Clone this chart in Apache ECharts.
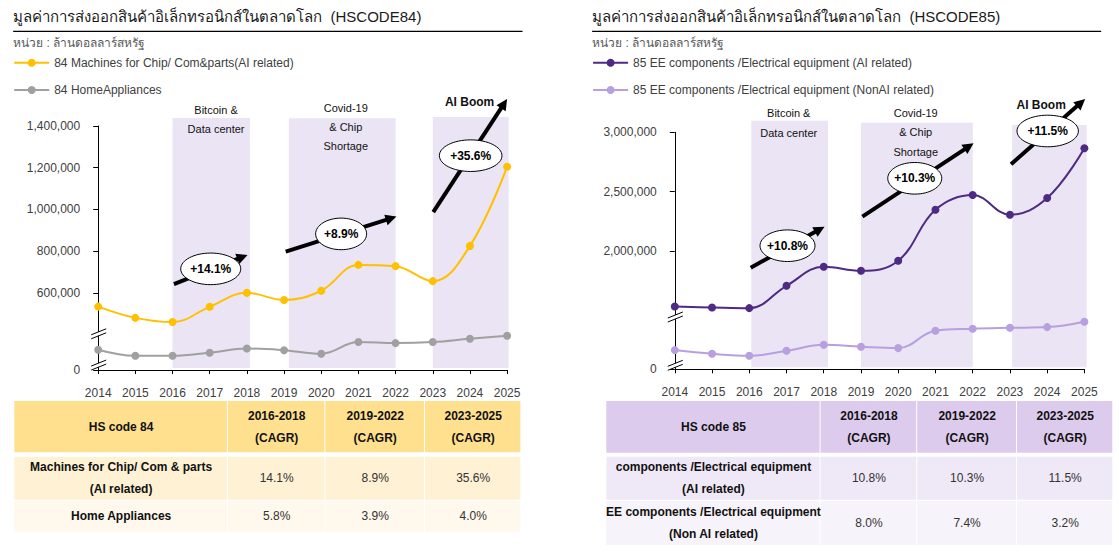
<!DOCTYPE html>
<html>
<head>
<meta charset="utf-8">
<script src="https://cdn.jsdelivr.net/npm/echarts@6/dist/echarts.min.js"></script>
<style>html,body{margin:0;padding:0;background:#fff}#c{width:1119px;height:558px}</style>
</head>
<body>
<div id="c"></div>
<script>
// ---------------- DATA ----------------
const years = ['2014','2015','2016','2017','2018','2019','2020','2021','2022','2023','2024','2025'];
const machines84 = [534000, 480000, 460000, 533000, 600000, 566000, 610000, 734000, 728000, 656000, 825000, 1205000];
const home84     = [327000, 298000, 298000, 313000, 333000, 325000, 308000, 364000, 359000, 364000, 380000, 394000];
const eeAI85     = [1530000, 1522000, 1516000, 1705000, 1865000, 1831000, 1916000, 2346000, 2471000, 2304000, 2445000, 2865000];
const eeNonAI85  = [1162000, 1131000, 1114000, 1156000, 1207000, 1190000, 1179000, 1325000, 1342000, 1350000, 1356000, 1401000];
const yTicks84 = [0, 600000, 800000, 1000000, 1200000, 1400000];
const yTicks85 = [0, 2000000, 2500000, 3000000];
const names84 = ['84 Machines for Chip/ Com&parts(AI related)', '84 HomeAppliances'];
const names85 = ['85 EE components /Electrical equipment (AI related)', '85 EE components /Electrical equipment (NonAI related)'];
const titles = ['มูลค่าการส่งออกสินค้าอิเล็กทรอนิกส์ในตลาดโลก  (HSCODE84)', 'มูลค่าการส่งออกสินค้าอิเล็กทรอนิกส์ในตลาดโลก  (HSCODE85)'];
const unitText = 'หน่วย : ล้านดอลลาร์สหรัฐ';
const bandNames = ['Bitcoin &\nData center', 'Covid-19\n& Chip\nShortage', 'AI Boom'];
const growth84 = ['+14.1%', '+8.9%', '+35.6%'];
const growth85 = ['+10.8%', '+10.3%', '+11.5%'];
const periods = ['2016-2018', '2019-2022', '2023-2025'];
const tableHead84 = 'HS code 84';
const rowLabels84 = ['Machines for Chip/ Com & parts\n(AI related)', 'Home Appliances'];
const cagrMachines84 = ['14.1%', '8.9%', '35.6%'];
const cagrHome84 = ['5.8%', '3.9%', '4.0%'];
const tableHead85 = 'HS code 85';
const rowLabels85 = ['components /Electrical equipment\n(AI related)', 'EE components /Electrical equipment\n(Non AI related)'];
const cagrAI85 = ['10.8%', '10.3%', '11.5%'];
const cagrNonAI85 = ['8.0%', '7.4%', '3.2%'];

// ---------------- LAYOUT / STYLE ----------------
const FONT = '"Liberation Sans", Arial, "Noto Sans", "DejaVu Sans", sans-serif';
const TXT = '#404040';
const BAND = '#EAE4F4';
const panels = [
  {
    grid: {left: 98.2, top: 126, width: 408.9, height: 244},
    floor: 230000, max: 1400000, ticks: yTicks84,
    names: names84, data: [machines84, home84], colors: ['#FFC000', '#A0A0A0'],
    title: titles[0], titleX: 13.2, ruleEnd: 522.5, legendX: 13.2,
    bands: [{x0: 2, x1: 4.08, top: 118}, {x0: 5.13, x1: 8, top: 118.3}, {x0: 9, x1: 11.04, top: 117}],
    bandText: [{x: 3.17, y: 110}, {x: 6.66, y: 107.7}, {x: 9.99, y: 101.7}],
    growth: growth84,
    arrows: [
      {from: [2.037, 641700], to: [4.017, 782000], ell: [3.027, 715000], rx: 30},
      {from: [5.044, 797800], to: [8.023, 965500], ell: [6.535, 882600], rx: 25.5},
      {from: [9.013, 986600], to: [11.0, 1529300], ell: [10.02, 1257700], rx: 31.3}
    ],
    breaks: [413200, 263200],
    table: {
      cols: [14.3, 227.9, 325.4, 425, 521.4],
      rows: [[401, 452.3], [456.7, 499.7], [501, 531.7]],
      fills: ['#FFE08F', '#FFF1D4', '#FFF8EC'],
      head: tableHead84, labels: rowLabels84, values: [cagrMachines84, cagrHome84]
    }
  },
  {
    grid: {left: 674.8, top: 132.3, width: 409.6, height: 237},
    floor: 1000000, max: 3000000, ticks: yTicks85,
    names: names85, data: [eeAI85, eeNonAI85], colors: ['#4E2A84', '#B89FDF'],
    title: titles[1], titleX: 592.1, ruleEnd: 1101.2, legendX: 592.1,
    bands: [{x0: 2.056, x1: 4.116, top: 120.7}, {x0: 5, x1: 8, top: 122.7}, {x0: 9.06, x1: 11.06, top: 125}],
    bandText: [{x: 3.06, y: 113.3}, {x: 6.47, y: 113}, {x: 9.84, y: 104.7}],
    growth: growth85,
    arrows: [
      {from: [2.039, 1857400], to: [4.021, 2203400], ell: [3.027, 2043000], rx: 27.5},
      {from: [5.037, 2287800], to: [8.024, 2907200], ell: [6.444, 2611800], rx: 27},
      {from: [9.029, 2730000], to: [11.02, 3281000], ell: [10.014, 3011000], rx: 30.7}
    ],
    breaks: [1458200, 1050600],
    table: {
      cols: [606.3, 820.6, 917.2, 1017, 1113.3],
      rows: [[401, 452.7], [456.7, 499.7], [501, 545]],
      fills: ['#DCCBEC', '#EFE8F6', '#F7F3FA'],
      head: tableHead85, labels: rowLabels85, values: [cagrAI85, cagrNonAI85]
    }
  }
];

const fmt = v => v.toLocaleString('en-US');

const chart = echarts.init(document.getElementById('c'), null, {renderer: 'svg', width: 1119, height: 558});

const option = {
  animation: false,
  backgroundColor: '#fff',
  textStyle: {fontFamily: FONT},
  title: panels.map(p => ({
    text: p.title, left: p.titleX, top: 9, padding: 0,
    textStyle: {fontSize: 15, fontWeight: 'normal', color: '#1a1a1a', fontFamily: FONT}
  })),
  legend: panels.map(p => ({
    data: p.names, orient: 'vertical', left: p.legendX, top: 55.7, padding: 0,
    itemWidth: 35, itemHeight: 10, itemGap: 13.3,
    textStyle: {fontSize: 12, color: TXT, fontFamily: FONT, lineHeight: 14}
  })),
  grid: panels.map(p => Object.assign({containLabel: false}, p.grid)),
  xAxis: [
    ...panels.map((p, i) => ({
      type: 'category', gridIndex: i, data: years, boundaryGap: false,
      axisLine: {lineStyle: {color: '#000', width: 1}},
      axisTick: {show: true, length: 4, lineStyle: {color: '#000'}},
      axisLabel: {color: TXT, fontSize: 12, margin: 17, fontFamily: FONT, interval: 0},
      splitLine: {show: false}
    })),
    ...panels.map((p, i) => ({type: 'value', gridIndex: i, min: 0, max: 11, show: false}))
  ],
  yAxis: panels.map((p, i) => {
    const vals = p.ticks.map(v => v === 0 ? p.floor : v);
    return {
      type: 'value', gridIndex: i, min: p.floor, max: p.max,
      axisLine: {show: true, lineStyle: {color: '#000', width: 1}},
      axisTick: {show: true, length: 5, lineStyle: {color: '#000'}, customValues: vals},
      axisLabel: {color: TXT, fontSize: 12, margin: 18, fontFamily: FONT, customValues: vals,
        formatter: v => (v === p.floor ? '0' : fmt(v))},
      splitLine: {show: false}
    };
  }),
  series: []
};
panels.forEach((p, i) => {
  p.data.forEach((d, k) => {
    option.series.push({
      type: 'line', name: p.names[k], xAxisIndex: i, yAxisIndex: i, data: d,
      smooth: 0.4, symbol: 'circle', symbolSize: 8, z: 3,
      lineStyle: {color: p.colors[k], width: 2},
      itemStyle: {color: p.colors[k]}
    });
  });
});
chart.setOption(option);

// ---------------- ANNOTATIONS & TABLES ----------------
const els = [];
panels.forEach((p, pi) => {
  const toPx = (x, y) => chart.convertToPixel({xAxisIndex: 2 + pi, yAxisIndex: pi}, [x, y]);
  const axisY = toPx(0, p.floor)[1];
  const axisX = toPx(0, p.floor)[0];
  // title rule + unit
  els.push({type: 'line', shape: {x1: p.titleX, y1: 31.3, x2: p.ruleEnd, y2: 31.3}, style: {stroke: '#000', lineWidth: 1.3}, z: 5});
  els.push({type: 'text', x: p.titleX, y: 42.5, style: {text: unitText, fill: '#595959', fontSize: 12, fontFamily: FONT, textVerticalAlign: 'middle'}, z: 5});
  // bands
  p.bands.forEach((b, i) => {
    const x0 = toPx(b.x0, p.floor)[0], x1 = toPx(b.x1, p.floor)[0];
    els.push({type: 'rect', silent: true, shape: {x: x0, y: b.top, width: x1 - x0, height: axisY - 2 - b.top}, style: {fill: BAND}, z: 1});
    const t = p.bandText[i];
    const bold = i === 2;
    els.push({type: 'text', x: toPx(t.x, p.floor)[0], y: t.y - 9.6, z: 6,
      style: {text: bandNames[i], fill: '#111', fontSize: bold ? 12 : 11, fontWeight: bold ? 'bold' : 'normal',
        fontFamily: FONT, lineHeight: 19.3, textAlign: 'center', textVerticalAlign: 'top'}});
  });
  // arrows + ellipses
  p.arrows.forEach((a, i) => {
    const s = toPx(a.from[0], a.from[1]), e = toPx(a.to[0], a.to[1]);
    const dx = e[0] - s[0], dy = e[1] - s[1], len = Math.hypot(dx, dy);
    const ux = dx / len, uy = dy / len, nx = -uy, ny = ux;
    const HL = 11, HW = 5.5;
    const bx = e[0] - ux * HL, by = e[1] - uy * HL;
    els.push({type: 'line', shape: {x1: s[0], y1: s[1], x2: bx + ux, y2: by + uy}, style: {stroke: '#000', lineWidth: 4}, z: 8});
    els.push({type: 'polygon', shape: {points: [[e[0], e[1]], [bx + nx * HW, by + ny * HW], [bx - nx * HW, by - ny * HW]]}, style: {fill: '#000'}, z: 8});
    const c = toPx(a.ell[0], a.ell[1]);
    els.push({type: 'ellipse', shape: {cx: c[0], cy: c[1], rx: a.rx, ry: 15.8}, style: {fill: '#fff', stroke: '#000', lineWidth: 1}, z: 9});
    els.push({type: 'text', x: c[0], y: c[1], z: 10,
      style: {text: p.growth[i], fill: '#000', fontSize: 12, fontWeight: 'bold', fontFamily: FONT, textAlign: 'center', textVerticalAlign: 'middle'}});
  });
  // axis break marks
  p.breaks.forEach(v => {
    const y = toPx(0, v)[1];
    els.push({type: 'polygon', shape: {points: [[axisX - 7, y + 3], [axisX + 8, y - 3], [axisX + 8, y + 1], [axisX - 7, y + 7]]}, style: {fill: '#fff'}, z: 7});
    els.push({type: 'line', shape: {x1: axisX - 7, y1: y + 3, x2: axisX + 8, y2: y - 3}, style: {stroke: '#000', lineWidth: 1}, z: 7});
    els.push({type: 'line', shape: {x1: axisX - 7, y1: y + 7, x2: axisX + 8, y2: y + 1}, style: {stroke: '#000', lineWidth: 1}, z: 7});
  });
  // table
  const T = p.table;
  const rowsText = [
    [T.head].concat(periods.map(pp => pp + '\n(CAGR)')),
    [T.labels[0]].concat(T.values[0]),
    [T.labels[1]].concat(T.values[1])
  ];
  T.rows.forEach((r, ri) => {
    for (let ci = 0; ci < 4; ci++) {
      const x0 = T.cols[ci], x1 = T.cols[ci + 1];
      els.push({type: 'rect', shape: {x: x0, y: r[0], width: x1 - x0 - 1, height: r[1] - r[0]}, style: {fill: T.fills[ri]}, z: 1});
      const bold = ri === 0 || ci === 0;
      els.push({type: 'text', x: (x0 + x1) / 2, y: (r[0] + r[1]) / 2, z: 2,
        style: {text: rowsText[ri][ci], fill: bold ? '#111' : '#333', fontSize: 12, fontWeight: bold ? 'bold' : 'normal',
          fontFamily: FONT, lineHeight: 22, textAlign: 'center', textVerticalAlign: 'middle'}});
    }
  });
});
chart.setOption({graphic: {elements: els}});
</script>
</body>
</html>
